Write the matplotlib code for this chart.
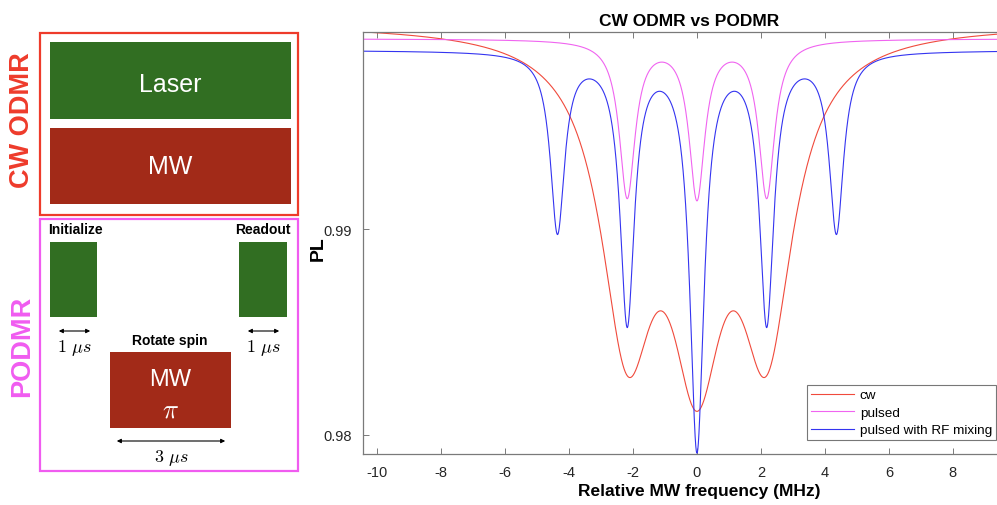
import numpy as np
import matplotlib
matplotlib.use("Agg")
import matplotlib.pyplot as plt
from matplotlib.patches import Rectangle, FancyArrowPatch

plt.rcParams['font.family'] = ['Liberation Sans', 'DejaVu Sans']
plt.rcParams['mathtext.fontset'] = 'cm'

# Hyperfine-split resonance lines (MHz), depths and half widths
cw_centers = [-2.18, 0.0, 2.18]
cw_depths = [0.0140, 0.0140, 0.0140]
cw_width = 1.0
cw_baseline = 1.0000

pulsed_centers = [-2.18, 0.0, 2.18]
pulsed_depths = [0.0076, 0.0076, 0.0076]
pulsed_width = 0.30
pulsed_baseline = 0.99925

rf_centers = [-4.36, -2.18, 0.0, 2.18, 4.36]
rf_depths = [0.00867, 0.01301, 0.01914, 0.01301, 0.00867]
rf_width = 0.27
rf_baseline = 0.99870

labels = ['cw', 'pulsed', 'pulsed with RF mixing']
xticks = [-10, -8, -6, -4, -2, 0, 2, 4, 6, 8]
yticks = [0.98, 0.99]


def spectrum(f, centers, depths, width, baseline):
    pl = np.full_like(f, baseline)
    for c, d in zip(centers, depths):
        pl -= d * width**2 / ((f - c)**2 + width**2)
    return pl


fig = plt.figure(figsize=(9.97, 5.06), dpi=100)

# ---- pulse sequence schematic (pixel coordinates) ----
sk = fig.add_axes([0, 0, 1, 1])
sk.set_xlim(0, 997)
sk.set_ylim(506, 0)
sk.axis('off')

green = '#316e22'
darkred = '#a22a18'
red_c = '#ee3b2b'
mag_c = '#f05cf0'

sk.add_patch(Rectangle((40, 34), 258, 182, fill=False, ec=red_c, lw=1.6))
sk.add_patch(Rectangle((40, 220), 258, 252, fill=False, ec=mag_c, lw=1.6))

sk.add_patch(Rectangle((50, 43), 241, 77, color=green, lw=0))
sk.text(170, 85, 'Laser', color='white', fontsize=18, ha='center', va='center')
sk.add_patch(Rectangle((50, 129), 241, 76, color=darkred, lw=0))
sk.text(170, 167, 'MW', color='white', fontsize=18, ha='center', va='center')

sk.text(22, 120, 'CW ODMR', color=red_c, fontsize=19.5, fontweight='bold',
        rotation=90, ha='center', va='center')
sk.text(22, 346, 'PODMR', color=mag_c, fontsize=19.5, fontweight='bold',
        rotation=90, ha='center', va='center')

sk.text(75, 230, 'Initialize', fontsize=10, fontweight='bold', ha='center', va='center')
sk.text(263, 230, 'Readout', fontsize=10, fontweight='bold', ha='center', va='center')
sk.add_patch(Rectangle((50, 243), 47, 75, color=green, lw=0))
sk.add_patch(Rectangle((239, 243), 48, 75, color=green, lw=0))

sk.text(170, 341, 'Rotate spin', fontsize=10, fontweight='bold', ha='center', va='center')
sk.add_patch(Rectangle((110, 353), 121, 76, color=darkred, lw=0))
sk.text(170, 380, 'MW', color='white', fontsize=17, ha='center', va='center')
sk.text(170, 411, r'$\pi$', color='white', fontsize=19, ha='center', va='center')

for x0, x1, y, txt in [(56, 93, 332, r'$1\ \mu s$'), (245, 282, 332, r'$1\ \mu s$'),
                       (114, 228, 442, r'$3\ \mu s$')]:
    sk.add_patch(FancyArrowPatch((x0, y), (x1, y), arrowstyle='<|-|>',
                                 mutation_scale=6, lw=0.8, color='black'))
    sk.text((x0 + x1) / 2, y + 16, txt, fontsize=13, ha='center', va='center')

# ---- ODMR spectra ----
ax = fig.add_axes([363 / 997, 51 / 506, 634 / 997, 422 / 506])
f = np.linspace(-10.44, 9.38, 4000)
ax.plot(f, spectrum(f, cw_centers, cw_depths, cw_width, cw_baseline),
        color='#f04a3c', lw=0.8, label=labels[0])
ax.plot(f, spectrum(f, pulsed_centers, pulsed_depths, pulsed_width, pulsed_baseline),
        color='#f064f0', lw=0.8, label=labels[1])
ax.plot(f, spectrum(f, rf_centers, rf_depths, rf_width, rf_baseline),
        color='#3434f0', lw=0.8, label=labels[2])

ax.set_xlim(-10.44, 9.38)
ax.set_ylim(0.97906, 0.99958)
ax.set_xticks(xticks)
ax.set_xticklabels([str(t) for t in xticks])
ax.set_yticks(yticks)
ax.set_yticklabels(['0.98', '0.99'])
ax.tick_params(direction='in', length=4.5, width=0.7, color='#7a7a7a',
               labelsize=10.5, labelcolor='#262626', top=True, pad=8)
for side in ['left', 'bottom', 'top']:
    ax.spines[side].set_color('#7a7a7a')
    ax.spines[side].set_linewidth(0.9)
ax.spines['right'].set_visible(False)

ax.set_title('CW ODMR vs PODMR', fontsize=12.5, fontweight='bold', x=0.514, y=1.0, pad=5)
ax.set_xlabel('Relative MW frequency (MHz)', fontsize=12.5, fontweight='bold')
ax.xaxis.set_label_coords(0.530, -0.068)
ax.set_ylabel('PL', fontsize=14, fontweight='bold')
ax.yaxis.set_label_coords(-0.057, 0.49)

leg = ax.legend(loc='lower right', bbox_to_anchor=(0.9985, 0.032), fontsize=9.7,
                frameon=True, fancybox=False, handlelength=3.2, handletextpad=0.4,
                borderpad=0.3, labelspacing=0.38, borderaxespad=0.0)
leg.get_frame().set_edgecolor('#555555')
leg.get_frame().set_linewidth(0.8)

fig.savefig('out.png', dpi=100)
